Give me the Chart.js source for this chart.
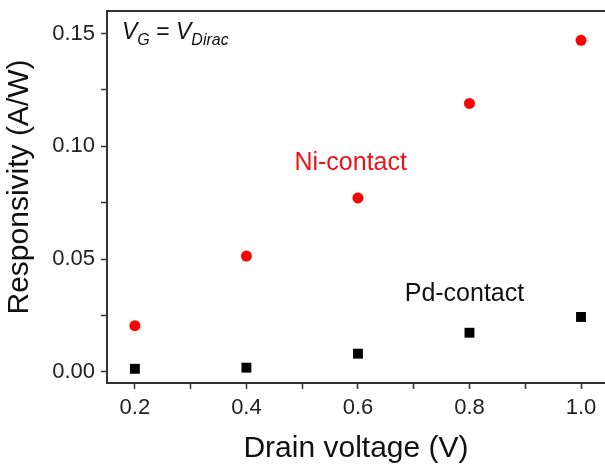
<!DOCTYPE html>
<html>
<head>
<meta charset="utf-8">
<script src="https://cdn.jsdelivr.net/npm/chart.js@4"></script>
<style>
  html, body { margin: 0; padding: 0; background: #fff; overflow: hidden; }
</style>
</head>
<body>
<canvas id="chart" width="605" height="467"></canvas>
<script>
// Data
const drainVoltage = [0.2, 0.4, 0.6, 0.8, 1.0];
const niContact = [0.0204, 0.0513, 0.0771, 0.1190, 0.1470];
const pdContact = [0.0013, 0.0018, 0.0080, 0.0173, 0.0243];

const xTicks = [0.2, 0.3, 0.4, 0.5, 0.6, 0.7, 0.8, 0.9, 1.0];
const xTickLabels = ["0.2", "", "0.4", "", "0.6", "", "0.8", "", "1.0"];
const yTicks = [0, 0.025, 0.05, 0.075, 0.1, 0.125, 0.15];
const yTickLabels = ["0.00", "", "0.05", "", "0.10", "", "0.15"];

const axisColor = "#333";
const font = "'Liberation Sans', Arial, sans-serif";

// Top frame line, y title and in-plot annotations
const annotations = {
  id: "annotations",
  afterDraw(chart) {
    const { ctx, chartArea: a, scales } = chart;
    ctx.save();
    ctx.strokeStyle = axisColor;
    ctx.lineWidth = 2;
    ctx.beginPath();
    ctx.moveTo(a.left, a.top);
    ctx.lineTo(chart.width, a.top);
    ctx.stroke();

    // y axis title
    ctx.save();
    ctx.translate(20, 187);
    ctx.rotate(-Math.PI / 2);
    ctx.fillStyle = "#111";
    ctx.font = "30px " + font;
    ctx.textAlign = "center";
    ctx.textBaseline = "middle";
    ctx.fillText("Responsivity (A/W)", 0, 0);
    ctx.restore();

    ctx.textAlign = "center";
    ctx.textBaseline = "middle";
    ctx.fillStyle = "#e8141a";
    ctx.font = "25px " + font;
    ctx.fillText("Ni-contact", scales.x.getPixelForValue(0.587), scales.y.getPixelForValue(0.0925));
    ctx.fillStyle = "#111";
    ctx.fillText("Pd-contact", scales.x.getPixelForValue(0.791), scales.y.getPixelForValue(0.0345));

    // V_G = V_Dirac
    ctx.textAlign = "left";
    ctx.textBaseline = "alphabetic";
    let x = a.left + 15;
    const base = a.top + 28;
    const put = (txt, size, italic, dy) => {
      ctx.font = (italic ? "italic " : "") + size + "px " + font;
      ctx.fillText(txt, x, base + dy);
      x += ctx.measureText(txt).width;
    };
    put("V", 23, true, 0);
    put("G", 16, true, 6);
    put(" = ", 23, false, 0);
    put("V", 23, true, 0);
    put("Dirac", 16, true, 6);
    ctx.restore();
  }
};

new Chart(document.getElementById("chart"), {
  type: "scatter",
  data: {
    datasets: [
      {
        label: "Ni-contact",
        data: drainVoltage.map((v, i) => ({ x: v, y: niContact[i] })),
        pointStyle: "circle",
        pointRadius: 5.5,
        backgroundColor: "#f00",
        borderColor: "#f00",
        borderWidth: 0
      },
      {
        label: "Pd-contact",
        data: drainVoltage.map((v, i) => ({ x: v, y: pdContact[i] })),
        pointStyle: "rect",
        pointRadius: 7,
        backgroundColor: "#000",
        borderColor: "#000",
        borderWidth: 0
      }
    ]
  },
  options: {
    responsive: false,
    animation: false,
    layout: { autoPadding: false, padding: { top: 11, right: 0, left: 0, bottom: 0 } },
    plugins: { legend: { display: false }, tooltip: { enabled: false } },
    scales: {
      x: {
        type: "linear",
        min: 0.15,
        max: 1.043,
        afterBuildTicks: (s) => { s.ticks = xTicks.map(v => ({ value: v })); },
        afterFit: (s) => { s.height = 84; s.paddingLeft = 0; s.paddingRight = 0; },
        border: { color: axisColor, width: 2 },
        grid: { drawOnChartArea: false, tickLength: 6, tickWidth: 1.5, tickColor: axisColor },
        ticks: {
          autoSkip: false,
          maxRotation: 0,
          padding: 6,
          color: "#222",
          font: { family: font, size: 22 },
          callback: (v, i) => xTickLabels[i]
        },
        title: {
          display: true,
          text: "Drain voltage (V)",
          color: "#111",
          font: { family: font, size: 30 },
          padding: { top: 0, bottom: 0 }
        }
      },
      y: {
        min: -0.005,
        max: 0.16,
        afterBuildTicks: (s) => { s.ticks = yTicks.map(v => ({ value: v })); },
        afterFit: (s) => { s.width = 107; s.paddingTop = 0; s.paddingBottom = 0; },
        border: { color: axisColor, width: 2 },
        grid: { drawOnChartArea: false, tickLength: 6, tickWidth: 1.5, tickColor: axisColor },
        ticks: {
          autoSkip: false,
          padding: 6,
          color: "#222",
          font: { family: font, size: 22 },
          callback: (v, i) => yTickLabels[i]
        }
      }
    }
  },
  plugins: [annotations]
});
</script>
</body>
</html>
